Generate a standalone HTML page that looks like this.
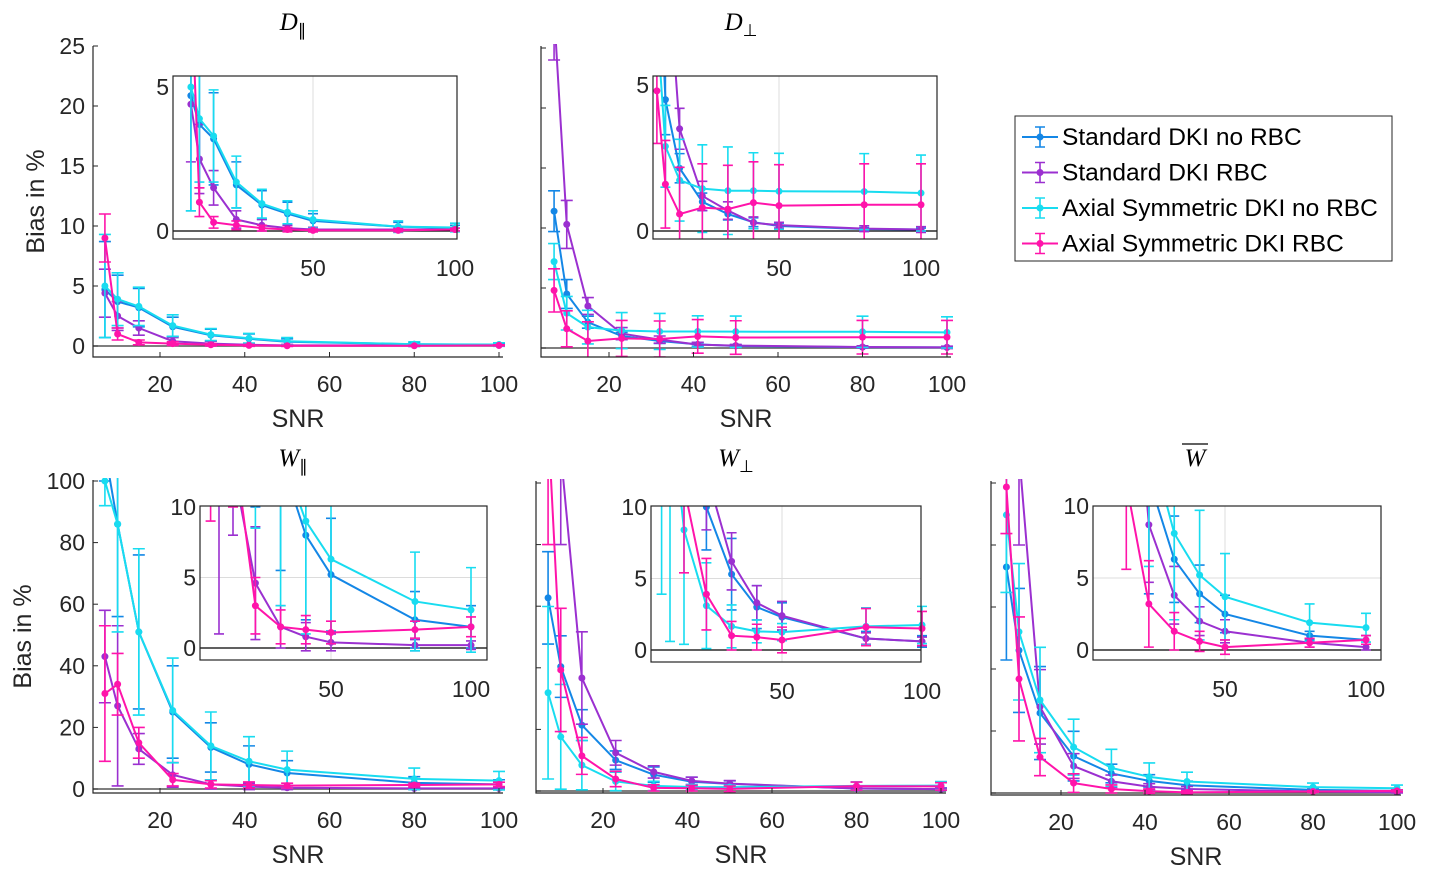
<!DOCTYPE html>
<html><head><meta charset="utf-8"><style>
html,body{margin:0;padding:0;background:#fff;width:1446px;height:879px;overflow:hidden}
svg{font-family:"Liberation Sans",sans-serif;}
</style></head><body>
<svg id="fig" width="1446" height="879" viewBox="0 0 1446 879" xmlns="http://www.w3.org/2000/svg"></svg>
<script>
const snr = [7,10,15,23,32,41,50,80,100];
const seriesNames = ["Standard DKI no RBC","Standard DKI RBC","Axial Symmetric DKI no RBC","Axial Symmetric DKI RBC"];
const seriesColors = ["#1487e6","#9b30d0","#18dcf0","#ff14aa"];
// D parallel
const dPar_std = [4.7,3.7,3.2,1.6,0.9,0.6,0.35,0.15,0.1];
const dPar_stdRBC = [4.4,2.5,1.5,0.4,0.2,0.1,0.05,0.05,0.05];
const dPar_ax = [5.0,3.9,3.3,1.7,0.95,0.65,0.4,0.15,0.12];
const dPar_axRBC = [9.0,1.0,0.3,0.2,0.1,0.05,0.02,0.02,0.05];
const dPar_err = [[4,2.2,1.6,0.8,0.5,0.4,0.25,0.15,0.1],[2,1.2,0.6,0.3,0.2,0.1,0.08,0.05,0.05],[4.3,2.2,1.6,0.9,0.5,0.4,0.3,0.2,0.15],[2,0.5,0.2,0.15,0.1,0.08,0.05,0.05,0.05]];
// D perpendicular
const dPerp_std = [11.4,4.5,2.15,1.0,0.58,0.3,0.17,0.07,0.05];
const dPerp_stdRBC = [28,10.3,3.5,1.2,0.7,0.28,0.2,0.08,0.05];
const dPerp_ax = [7.2,2.9,1.74,1.45,1.38,1.38,1.36,1.35,1.3];
const dPerp_axRBC = [4.8,1.6,0.58,0.8,0.75,0.97,0.87,0.9,0.9];
const dPerp_err = [[1.7,1.2,0.5,0.3,0.2,0.15,0.1,0.05,0.05],[4,2,0.7,0.5,0.3,0.2,0.1,0.1,0.1],[1.5,1.4,1.4,1.5,1.5,1.3,1.3,1.3,1.3],[1.8,1.5,1.6,1.5,1.5,1.4,1.4,1.4,1.4]];
// W parallel
const wPar_std = [110,86,51,25,13.5,8,5.2,2.0,1.5];
const wPar_stdRBC = [43,27,13,4.6,1.5,0.8,0.4,0.2,0.2];
const wPar_ax = [100,86,51,25.5,14,9,6.3,3.3,2.7];
const wPar_axRBC = [31,34,15,3,1.5,1.3,1.1,1.3,1.5];
const wPar_err = [[10,30,25,15,8,6,4,2,1.5],[15,26,5,4,1.5,1,0.6,0.4,0.3],[8,35,27,17,11,8,6,3.5,3],[22,10,5,2,1.2,1,0.8,0.6,0.7]];
// W perpendicular
const wPerp_std = [62.7,40.4,21.4,10,5.3,3.0,2.3,0.8,0.6];
const wPerp_stdRBC = [200,110,36.7,12.4,6.2,3.3,2.4,0.8,0.6];
const wPerp_ax = [31.9,17.6,8.4,3.1,1.65,1.3,1.25,1.65,1.75];
const wPerp_axRBC = [120,39.3,11.4,3.9,1.0,0.9,0.7,1.6,1.5];
const wPerp_err = [[15,10,5,3,2.5,1.5,1,0.5,0.4],[40,30,15,4,2,1.2,1,0.4,0.3],[28,17,8,3,1.5,0.8,0.6,1.3,1.3],[40,20,6,2.5,1,0.9,0.9,1.3,1.2]];
// W mean
const wMean_std = [72.9,46,25.8,11.9,6.3,3.9,2.5,1.0,0.7];
const wMean_stdRBC = [150,110,27.8,8.7,3.8,2.0,1.3,0.5,0.2];
const wMean_ax = [89.7,52,30,14.8,8.1,5.2,3.7,1.9,1.55];
const wMean_axRBC = [98.7,36.8,11.6,3.2,1.3,0.6,0.2,0.5,0.7];
const wMean_err = [[30,20,15,8,3,2,1.3,0.3,0.3],[40,30,12,4,2,1,0.8,0.3,0.2],[25,22,17,9,6,4.5,3,1.3,1],[15,20,6,3,1.3,0.7,0.5,0.3,0.3]];

const NS="http://www.w3.org/2000/svg";
const fig=document.getElementById('fig');
function el(tag,attrs,parent,txt){const e=document.createElementNS(NS,tag);for(const k in attrs)e.setAttribute(k,attrs[k]);if(txt!==undefined)e.textContent=txt;(parent||fig).appendChild(e);return e;}
function lin(v0,p0,v1,p1){return v=>p0+(v-v0)*(p1-p0)/(v1-v0);}

const defs=el('defs',{});
let clipN=0;
function drawSeries(g,sx,sy,vals,errs,color,cap,name){
  const pts=snr.map((s,i)=>[sx(s),sy(vals[i])]);
  const pl=el('polyline',{points:pts.map(p=>p.join(',')).join(' '),fill:'none',stroke:color,'stroke-width':2},g);
  
  
  snr.forEach((s,i)=>{
    const x=sx(s),y1=sy(vals[i]-errs[i]),y2=sy(vals[i]+errs[i]);
    const eb=el('path',{d:`M${x},${y1}V${y2}M${x-cap},${y1}H${x+cap}M${x-cap},${y2}H${x+cap}`,stroke:color,'stroke-width':1.6,fill:'none'},g);
    
    
    const c=el('circle',{cx:x,cy:sy(vals[i]),r:3.5,fill:color},g);
    
    
  });
}
function clip(x0,y0,x1,y1){const id='c'+(clipN++);const cp=el('clipPath',{id},defs);el('rect',{x:x0,y:y0,width:x1-x0,height:y1-y0},cp);return `url(#${id})`;}

function mainPanel(o){
  const g=el('g',{});
  
  
  const sx=lin(20,o.x20,100,o.x100), sy=lin(0,o.y0,o.yv,o.yvp);
  el('line',{x1:o.L,x2:o.R,y1:o.y0,y2:o.y0,stroke:'#555','stroke-width':1.5},g);
  const dg=el('g',{'clip-path':clip(o.L,o.T-2,o.R+8,o.B)},g);
  o.series.forEach((v,k)=>drawSeries(dg,sx,sy,v,o.err[k],seriesColors[k],6,o.name+'-s'+k));
  el('path',{d:`M${o.L},${o.T}V${o.B}H${o.R}`,stroke:'#262626','stroke-width':1.2,fill:'none'},g);
  [20,40,60,80,100].forEach(t=>{const x=sx(t);el('line',{x1:x,x2:x,y1:o.B,y2:o.B-5,stroke:'#262626'},g);
    el('text',{x:x,y:o.B+35,'text-anchor':'middle','font-size':23,fill:'#262626'},g,t);});
  o.yticks.forEach(t=>{const y=sy(t);el('line',{x1:o.L,x2:o.L+5,y1:y,y2:y,stroke:'#262626'},g);
    if(o.ylabels)el('text',{x:o.L-8,y:y+8,'text-anchor':'end','font-size':23,fill:'#262626'},g,t);});
  const xl=el('text',{x:(o.L+o.R)/2,y:o.B+70,'text-anchor':'middle','font-size':25,fill:'#262626'},g,'SNR');
  
  if(o.ytitle){const yt=el('text',{x:0,y:0,transform:`translate(${o.ytx},${(o.T+o.B)/2}) rotate(-90)`,'text-anchor':'middle','font-size':25,fill:'#262626'},g,'Bias in %');
    }
  const I=o.inset, ig=el('g',{},g);
  
  
  const isx=lin(50,I.x50,100,I.x100), isy=lin(0,I.y0,I.yv,I.yvp);
  el('rect',{x:I.L,y:I.T,width:I.R-I.L,height:I.B-I.T,fill:'#fff'},ig);
  el('line',{x1:isx(50),x2:isx(50),y1:I.T,y2:I.B,stroke:'#dcdcdc'},ig);
  if(I.hgrid)el('line',{x1:I.L,x2:I.R,y1:isy(5),y2:isy(5),stroke:'#dcdcdc'},ig);
  el('line',{x1:I.L,x2:I.R,y1:I.y0,y2:I.y0,stroke:'#000','stroke-width':1.2},ig);
  const idg=el('g',{'clip-path':clip(I.L,I.T,I.R+6,I.B)},ig);
  o.series.forEach((v,k)=>drawSeries(idg,isx,isy,v,o.err[k],seriesColors[k],5,o.name+'-inset-s'+k));
  el('rect',{x:I.L,y:I.T,width:I.R-I.L,height:I.B-I.T,fill:'none',stroke:'#262626','stroke-width':1.2},ig);
  [50,100].forEach(t=>el('text',{x:isx(t),y:I.B+37,'text-anchor':'middle','font-size':23,fill:'#262626'},ig,t));
  I.yticks.forEach(t=>el('text',{x:I.L-4,y:isy(t)+8,'text-anchor':'end','font-size':23,fill:'#262626'},ig,t));
  const ti=el('text',{x:o.tx,y:o.ty,'text-anchor':'middle','font-size':25,'font-style':'italic','font-family':'Liberation Serif, serif',fill:'#000'},g);
  
  el('tspan',{},ti,o.title[0]);
  el('tspan',{'font-size':17,dy:6,'font-style':'normal'},ti,o.title[1]);
  if(o.over)el('line',{x1:o.tx-13,x2:o.tx+13,y1:o.ty-22,y2:o.ty-22,stroke:'#000','stroke-width':1.3},g);
}

mainPanel({name:'d-parallel-panel',L:93,R:503,T:46,B:357,x20:160,x100:499,y0:346,yv:25,yvp:46,yticks:[0,5,10,15,20,25],ylabels:true,ytitle:true,ytx:44,
  series:[dPar_std,dPar_stdRBC,dPar_ax,dPar_axRBC],err:dPar_err,title:['D','∥'],tx:293,ty:30,
  inset:{L:173,R:457,T:76,B:239,x50:313,x100:455,y0:231,yv:5,yvp:87,yticks:[0,5]}});
mainPanel({name:'d-perp-panel',L:541,R:951,T:46,B:357,x20:609,x100:947,y0:348,yv:25,yvp:48,yticks:[0,5,10,15,20,25],ylabels:false,
  series:[dPerp_std,dPerp_stdRBC,dPerp_ax,dPerp_axRBC],err:dPerp_err,title:['D','⊥'],tx:741,ty:30,
  inset:{L:653,R:937,T:76,B:239,x50:779,x100:921,y0:231,yv:5,yvp:85,yticks:[0,5]}});
mainPanel({name:'w-parallel-panel',L:93,R:503,T:480,B:793,x20:160,x100:499,y0:789,yv:100,yvp:481,yticks:[0,20,40,60,80,100],ylabels:true,ytitle:true,ytx:31,
  series:[wPar_std,wPar_stdRBC,wPar_ax,wPar_axRBC],err:wPar_err,title:['W','∥'],tx:293,ty:466,
  inset:{L:200,R:487,T:506,B:660,x50:331,x100:471,y0:648,yv:10,yvp:507,yticks:[0,5,10],hgrid:true}});
mainPanel({name:'w-perp-panel',L:536,R:946,T:481,B:793,x20:603,x100:941,y0:791,yv:100,yvp:483,yticks:[0,20,40,60,80,100],ylabels:false,
  series:[wPerp_std,wPerp_stdRBC,wPerp_ax,wPerp_axRBC],err:wPerp_err,title:['W','⊥'],tx:736,ty:466,
  inset:{L:651,R:921,T:506,B:662,x50:782,x100:922,y0:650,yv:10,yvp:507,yticks:[0,5,10],hgrid:true}});
mainPanel({name:'w-mean-panel',L:991,R:1401,T:481,B:795,x20:1061,x100:1397,y0:793,yv:100,yvp:483,yticks:[0,20,40,60,80,100],ylabels:false,
  series:[wMean_std,wMean_stdRBC,wMean_ax,wMean_axRBC],err:wMean_err,title:['W',''],tx:1195,ty:466,over:true,
  inset:{L:1093,R:1381,T:506,B:660,x50:1225,x100:1366,y0:650,yv:10,yvp:506,yticks:[0,5,10],hgrid:true}});

const lg=el('g',{});


el('rect',{x:1015,y:116,width:377,height:145,fill:'#fff',stroke:'#262626','stroke-width':1},lg);
seriesNames.forEach((n,k)=>{
  const y=137+k*35.5, e=el('g',{},lg);
  
  
  const c=seriesColors[k];
  el('line',{x1:1022,x2:1058,y1:y,y2:y,stroke:c,'stroke-width':2},e);
  el('path',{d:`M1040,${y-10}V${y+10}M1035,${y-10}H1045M1035,${y+10}H1045`,stroke:c,'stroke-width':1.6,fill:'none'},e);
  el('circle',{cx:1040,cy:y,r:3.5,fill:c},e);
  el('text',{x:1062,y:y+8,'font-size':24.5,fill:'#000'},e,n);
});
</script>
</body></html>
